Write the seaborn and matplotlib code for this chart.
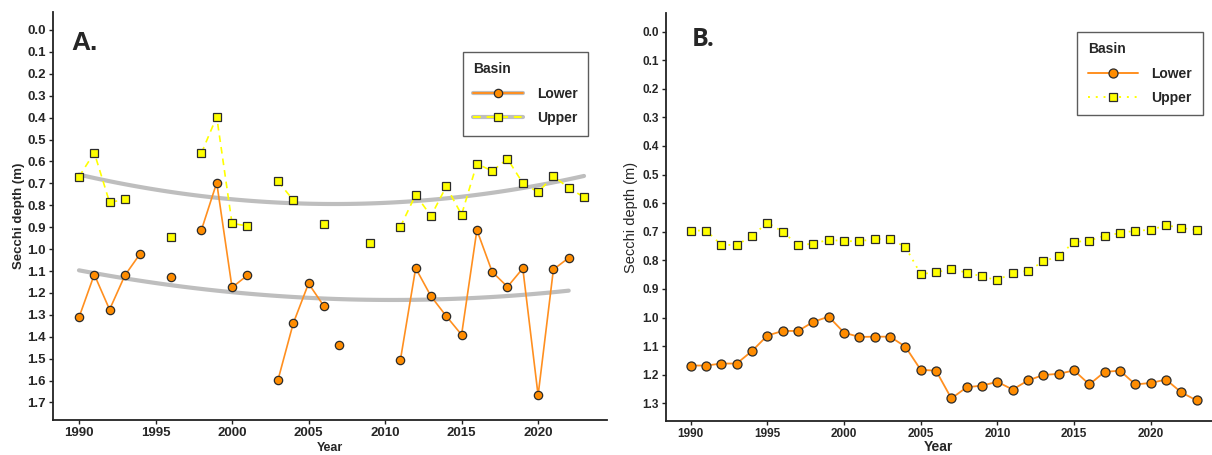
import numpy as np
import pandas as pd
import matplotlib
matplotlib.use("Agg")
import matplotlib.pyplot as plt
from matplotlib.lines import Line2D
import seaborn as sns

sns.set_style("white")
plt.rcParams['font.family'] = ['Liberation Sans', 'DejaVu Sans']

nan = np.nan
years = list(range(1990, 2024))

# Panel A values (Secchi depth, m)
a_upper = [0.67, 0.56, 0.787, 0.773, nan, nan, 0.944, nan, 0.562, 0.396,
           0.883, 0.894, nan, 0.691, 0.776, nan, 0.886, nan, nan, 0.970,
           nan, 0.898, 0.752, 0.849, 0.714, 0.843, 0.610, 0.644, 0.588, 0.699,
           0.740, 0.667, 0.721, 0.763]
a_lower = [1.312, 1.116, 1.276, 1.120, 1.021, nan, 1.126, nan, 0.913, 0.697,
           1.175, 1.120, nan, 1.598, 1.339, 1.157, 1.260, 1.438, nan, nan,
           nan, 1.507, 1.087, 1.215, 1.306, 1.391, 0.913, 1.104, 1.172, 1.088,
           1.667, 1.093, 1.040, nan]
# years where the reference's line is broken although neighbours exist
a_lower_breaks = [2007]

# Panel B values
b_upper = [0.696, 0.696, 0.746, 0.746, 0.715, 0.668, 0.700, 0.747, 0.742, 0.728,
           0.733, 0.733, 0.726, 0.726, 0.753, 0.848, 0.842, 0.830, 0.843, 0.856,
           0.870, 0.843, 0.837, 0.804, 0.785, 0.736, 0.731, 0.714, 0.705, 0.696,
           0.694, 0.677, 0.687, 0.694]
b_lower = [1.168, 1.168, 1.161, 1.161, 1.117, 1.063, 1.047, 1.047, 1.015, 0.997,
           1.053, 1.068, 1.067, 1.067, 1.102, 1.183, 1.186, 1.283, 1.244, 1.238,
           1.225, 1.252, 1.220, 1.201, 1.197, 1.185, 1.234, 1.190, 1.186, 1.234,
           1.229, 1.217, 1.262, 1.290]

basins = ["Lower", "Upper"]
ticks_a = [round(0.1 * i, 1) for i in range(18)]
ticks_b = [round(0.1 * i, 1) for i in range(14)]
xticks = [1990, 1995, 2000, 2005, 2010, 2015, 2020]

ORANGE = "#FF8C00"
LINE_OR = "#FF8F1F"
YELLOW = "#FFFF00"
GRAY = "#BEBEBE"
EDGE = "#2b2b2b"


def to_frame(vals, breaks=()):
    df = pd.DataFrame({"Year": years, "Depth": vals})
    brk = df["Depth"].isna() | df["Year"].isin(list(breaks))
    df["seg"] = brk.cumsum()
    return df.dropna()


fig = plt.figure(figsize=(12.12, 4.55), dpi=100)
axA = fig.add_axes([0.0437, 0.0769, 0.4571, 0.8967])
axB = fig.add_axes([0.5493, 0.0747, 0.4507, 0.8967])

styles = {
    "Lower": dict(color=LINE_OR, marker="o", mfc=ORANGE),
    "Upper": dict(color=YELLOW, marker="s", mfc=YELLOW),
}

# ---- Panel A ----
dA = {"Lower": to_frame(a_lower, a_lower_breaks), "Upper": to_frame(a_upper)}
for b in basins:
    sns.regplot(data=dA[b], x="Year", y="Depth", order=2, ci=None, scatter=False,
                ax=axA, line_kws=dict(color=GRAY, lw=3, zorder=1))
msA = {"Lower": 6.0, "Upper": 5.3}
lsA = {"Lower": "-", "Upper": (0, (4, 3))}
for b in basins:
    st = styles[b]
    sns.lineplot(data=dA[b], x="Year", y="Depth", units="seg", estimator=None,
                 ax=axA, color=st["color"], linestyle=lsA[b], lw=1.2,
                 marker=st["marker"], markersize=msA[b],
                 markerfacecolor=st["mfc"], markeredgecolor=EDGE, markeredgewidth=0.9,
                 zorder=3)

# ---- Panel B ----
dB = {"Lower": to_frame(b_lower), "Upper": to_frame(b_upper)}
msB = {"Lower": 6.5, "Upper": 5.6}
lsB = {"Lower": "-", "Upper": (0, (1, 3))}
for b in basins:
    st = styles[b]
    sns.lineplot(data=dB[b], x="Year", y="Depth", units="seg", estimator=None,
                 ax=axB, color=st["color"], linestyle=lsB[b],
                 lw=1.3, marker=st["marker"], markersize=msB[b],
                 markerfacecolor=st["mfc"], markeredgecolor=EDGE, markeredgewidth=0.9,
                 zorder=3)

for ax, ticks, ylim, xlim in [(axA, ticks_a, (1.78, -0.082), (1988.3, 2024.5)),
                               (axB, ticks_b, (1.362, -0.065), (1988.37, 2024.0))]:
    ax.set_ylim(*ylim)
    ax.set_xlim(*xlim)
    ax.set_yticks(ticks)
    ax.set_yticklabels([f"{t:.1f}" for t in ticks])
    ax.set_xticks(xticks)
    for s in ["top", "right"]:
        ax.spines[s].set_visible(False)
    for s in ["left", "bottom"]:
        ax.spines[s].set_color("#222222")
        ax.spines[s].set_linewidth(1.3)
    ax.tick_params(axis="both", which="both", length=3, width=1, color="#222222",
                   direction="out", left=True, bottom=True, pad=2)
    ax.grid(False)

for lab in axA.get_yticklabels() + axA.get_xticklabels():
    lab.set_fontsize(9.5)
    lab.set_fontweight("bold")
for lab in axB.get_yticklabels() + axB.get_xticklabels():
    lab.set_fontsize(8.5)
    lab.set_fontweight("bold")

axA.set_xlabel("Year", fontsize=9, fontweight="bold", labelpad=2)
axA.set_ylabel("Secchi depth (m)", fontsize=9.5, fontweight="bold", labelpad=2)
axB.set_xlabel("Year", fontsize=10, fontweight="bold", labelpad=0)
axB.set_ylabel("Secchi depth (m)", fontsize=10.5, labelpad=3)

axA.text(0.034, 0.925, "A.", transform=axA.transAxes, fontsize=19, fontweight="bold",
         va="center", ha="left")
axB.text(0.048, 0.935, "B.", transform=axB.transAxes, fontsize=18, fontweight="bold",
         va="center", ha="left", family=["Open Sans", "DejaVu Sans"])


def handle(b, ls, with_gray, ms):
    st = styles[b]
    parts = []
    if with_gray:
        parts.append(Line2D([], [], color=GRAY, lw=3))
    parts.append(Line2D([], [], color=st["color"], ls=ls, lw=1.4,
                        marker=st["marker"], markersize=ms,
                        markerfacecolor=st["mfc"], markeredgecolor=EDGE, markeredgewidth=0.9))
    return tuple(parts)


hA = [handle("Lower", "-", True, msA["Lower"]), handle("Upper", (0, (4, 3)), True, msA["Upper"])]
legA = axA.legend(hA, basins, title="Basin", loc="upper right",
                  bbox_to_anchor=(0.966, 0.902), borderaxespad=0,
                  frameon=True, fancybox=False,
                  edgecolor="#333333", handlelength=3.6, borderpad=0.75,
                  labelspacing=0.75, handletextpad=1.0,
                  prop=dict(size=10, weight="bold"), alignment="left")
legA.get_title().set_fontsize(10)
legA.get_title().set_fontweight("bold")
legA.get_frame().set_linewidth(1.0)

hB = [handle("Lower", "-", False, msB["Lower"]), handle("Upper", (0, (1, 3)), False, msB["Upper"])]
legB = axB.legend(hB, basins, title="Basin", loc="upper right",
                  bbox_to_anchor=(0.983, 0.954), borderaxespad=0,
                  frameon=True, fancybox=False,
                  edgecolor="#333333", handlelength=3.6, borderpad=0.75,
                  labelspacing=0.75, handletextpad=1.0,
                  prop=dict(size=10, weight="bold"), alignment="left")
legB.get_title().set_fontsize(10)
legB.get_title().set_fontweight("bold")
legB.get_frame().set_linewidth(1.0)

fig.savefig("out.png", dpi=100, facecolor="white")
